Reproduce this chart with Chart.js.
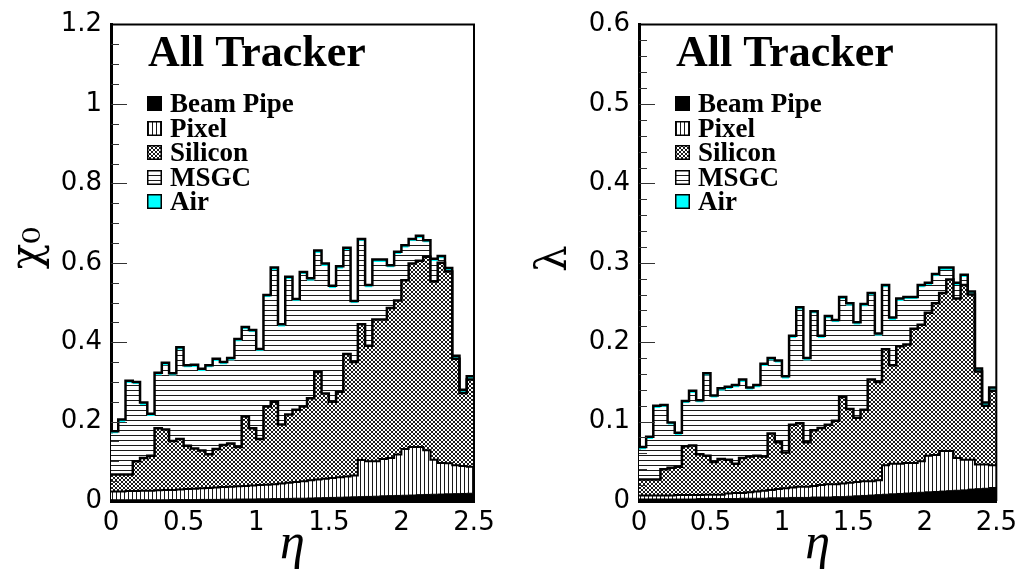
<!DOCTYPE html>
<html>
<head>
<meta charset="utf-8">
<script src="https://cdn.jsdelivr.net/npm/chart.js@4.4.1/dist/chart.umd.min.js"></script>
<style>
  html, body { margin: 0; padding: 0; background: #fff; }
  #wrap { position: relative; width: 1024px; height: 570px; }
  .panel { position: absolute; top: 0; width: 512px; height: 570px; }
</style>
</head>
<body>
<div id="wrap">
  <div class="panel" style="left:0"><canvas id="x0Chart" width="512" height="570"></canvas></div>
  <div class="panel" style="left:512px"><canvas id="lambdaChart" width="512" height="570"></canvas></div>
</div>
<script>
// eta bin edges (50 bins of 0.05)
const etaEdges = [0, 0.05, 0.1, 0.15, 0.2, 0.25, 0.3, 0.35, 0.4, 0.45,
    0.5, 0.55, 0.6, 0.65, 0.7, 0.75, 0.8, 0.85, 0.9, 0.95,
    1.0, 1.05, 1.1, 1.15, 1.2, 1.25, 1.3, 1.35, 1.4, 1.45,
    1.5, 1.55, 1.6, 1.65, 1.7, 1.75, 1.8, 1.85, 1.9, 1.95,
    2.0, 2.05, 2.1, 2.15, 2.2, 2.25, 2.3, 2.35, 2.4, 2.45, 2.5];

const layerNames = ['Beam Pipe', 'Pixel', 'Silicon', 'MSGC', 'Air'];

// cumulative stack tops, radiation lengths (x/X0)
const x0BeamPipe = [0.003, 0.003, 0.003, 0.003, 0.003, 0.003, 0.003, 0.003, 0.0035, 0.0035,
    0.0035, 0.0035, 0.004, 0.004, 0.004, 0.0045, 0.0045, 0.005, 0.005, 0.005,
    0.0055, 0.0055, 0.006, 0.006, 0.0065, 0.007, 0.007, 0.0075, 0.008, 0.0085,
    0.009, 0.0095, 0.010, 0.0105, 0.011, 0.0115, 0.012, 0.013, 0.0135, 0.014,
    0.0145, 0.015, 0.016, 0.0165, 0.017, 0.0175, 0.018, 0.0185, 0.019, 0.0195];
const x0Pixel = [0.024, 0.024, 0.025, 0.025, 0.026, 0.026, 0.027, 0.028, 0.028, 0.029,
    0.030, 0.031, 0.032, 0.033, 0.034, 0.035, 0.036, 0.037, 0.038, 0.039,
    0.040, 0.041, 0.042, 0.044, 0.046, 0.048, 0.050, 0.052, 0.054, 0.056,
    0.058, 0.060, 0.062, 0.064, 0.103, 0.100, 0.100, 0.106, 0.108, 0.117,
    0.131, 0.136, 0.136, 0.128, 0.104, 0.096, 0.095, 0.090, 0.088, 0.086];
const x0Silicon = [0.067, 0.067, 0.067, 0.100, 0.108, 0.114, 0.183, 0.180, 0.151, 0.156,
    0.139, 0.132, 0.127, 0.118, 0.131, 0.141, 0.145, 0.136, 0.213, 0.183,
    0.156, 0.238, 0.250, 0.193, 0.218, 0.230, 0.238, 0.259, 0.325, 0.271,
    0.250, 0.275, 0.370, 0.350, 0.445, 0.391, 0.457, 0.457, 0.486, 0.505,
    0.556, 0.598, 0.605, 0.615, 0.553, 0.600, 0.578, 0.358, 0.272, 0.306];
const x0Msgc = [0.170, 0.199, 0.297, 0.294, 0.242, 0.214, 0.317, 0.342, 0.316, 0.381,
    0.336, 0.337, 0.327, 0.336, 0.352, 0.344, 0.354, 0.402, 0.432, 0.425,
    0.377, 0.513, 0.582, 0.439, 0.559, 0.503, 0.571, 0.555, 0.625, 0.592,
    0.536, 0.585, 0.632, 0.498, 0.654, 0.538, 0.602, 0.602, 0.588, 0.622,
    0.638, 0.654, 0.662, 0.651, 0.604, 0.611, 0.581, 0.360, 0.274, 0.308];
const x0Total = [0.176, 0.205, 0.303, 0.300, 0.248, 0.220, 0.323, 0.348, 0.322, 0.387,
    0.342, 0.343, 0.333, 0.342, 0.358, 0.350, 0.360, 0.408, 0.438, 0.431,
    0.383, 0.519, 0.588, 0.445, 0.565, 0.509, 0.577, 0.561, 0.631, 0.598,
    0.542, 0.591, 0.638, 0.504, 0.660, 0.544, 0.608, 0.608, 0.594, 0.628,
    0.644, 0.660, 0.668, 0.657, 0.610, 0.617, 0.587, 0.366, 0.280, 0.314];

// cumulative stack tops, interaction lengths (x/lambda)
const lamBeamPipe = [0.0025, 0.0025, 0.0025, 0.0025, 0.0025, 0.0025, 0.0025, 0.0025, 0.003, 0.003,
    0.003, 0.003, 0.003, 0.003, 0.0035, 0.0035, 0.0035, 0.0035, 0.004, 0.004,
    0.004, 0.0045, 0.0045, 0.0045, 0.005, 0.005, 0.005, 0.0055, 0.0055, 0.006,
    0.0065, 0.007, 0.0075, 0.008, 0.0085, 0.009, 0.0095, 0.010, 0.0105, 0.011,
    0.0115, 0.012, 0.0125, 0.013, 0.0135, 0.014, 0.015, 0.0155, 0.016, 0.017];
const lamPixel = [0.007, 0.007, 0.007, 0.007, 0.007, 0.0075, 0.0075, 0.0075, 0.0075, 0.008,
    0.008, 0.008, 0.0095, 0.010, 0.010, 0.011, 0.012, 0.013, 0.014, 0.015,
    0.016, 0.017, 0.018, 0.018, 0.019, 0.020, 0.021, 0.021, 0.022, 0.023,
    0.024, 0.025, 0.025, 0.026, 0.045, 0.047, 0.047, 0.048, 0.048, 0.050,
    0.057, 0.058, 0.063, 0.063, 0.054, 0.052, 0.052, 0.046, 0.046, 0.045];
const lamSilicon = [0.027, 0.027, 0.027, 0.040, 0.042, 0.043, 0.069, 0.070, 0.059, 0.057,
    0.049, 0.053, 0.052, 0.047, 0.054, 0.056, 0.057, 0.056, 0.085, 0.074,
    0.061, 0.096, 0.098, 0.074, 0.089, 0.092, 0.096, 0.101, 0.131, 0.116,
    0.105, 0.115, 0.153, 0.150, 0.191, 0.171, 0.195, 0.197, 0.217, 0.222,
    0.237, 0.249, 0.262, 0.279, 0.255, 0.272, 0.260, 0.163, 0.120, 0.139];
const lamMsgc = [0.065, 0.078, 0.117, 0.118, 0.096, 0.083, 0.123, 0.136, 0.124, 0.158,
    0.130, 0.139, 0.141, 0.143, 0.150, 0.140, 0.143, 0.170, 0.177, 0.174,
    0.154, 0.205, 0.241, 0.177, 0.236, 0.205, 0.230, 0.225, 0.254, 0.246,
    0.222, 0.245, 0.259, 0.208, 0.269, 0.228, 0.252, 0.254, 0.254, 0.269,
    0.272, 0.283, 0.291, 0.291, 0.272, 0.282, 0.261, 0.164, 0.121, 0.140];
const lamTotal = [0.068, 0.081, 0.120, 0.121, 0.099, 0.086, 0.126, 0.139, 0.127, 0.161,
    0.133, 0.142, 0.144, 0.146, 0.153, 0.143, 0.146, 0.173, 0.180, 0.177,
    0.157, 0.208, 0.244, 0.180, 0.239, 0.208, 0.233, 0.228, 0.257, 0.249,
    0.225, 0.248, 0.262, 0.211, 0.272, 0.231, 0.255, 0.257, 0.257, 0.272,
    0.275, 0.286, 0.294, 0.294, 0.275, 0.285, 0.264, 0.167, 0.124, 0.143];

// hatch patterns like the ROOT fill styles
const makePattern = (w, h, draw) => {
    const c = document.createElement('canvas');
    c.width = w;
    c.height = h;
    const g = c.getContext('2d');
    g.fillStyle = '#fff';
    g.fillRect(0, 0, w, h);
    g.fillStyle = '#1a1a1a';
    draw(g);
    return g.createPattern(c, 'repeat');
};

const pixelPattern = makePattern(4, 4, g => g.fillRect(0, 0, 1, 4));
const msgcPattern = makePattern(5, 5, g => g.fillRect(0, 0, 5, 1));
const siliconPattern = makePattern(4, 4, g => {
    for (let i = 0; i < 4; i++) {
        g.fillRect(i, i, 1, 1);
        g.fillRect(3 - i, i, 1, 1);
    }
});

const fills = ['#000', pixelPattern, siliconPattern, msgcPattern, '#00ffff'];
const lineColors = ['#000', '#000', '#000', 'rgba(0,0,0,0)', '#000'];
const lineWidths = [1, 2, 2.5, 1, 2.5];

const histPoints = (values) => {
    const pts = values.map((v, i) => ({ x: etaEdges[i], y: v }));
    pts.push({ x: etaEdges[values.length], y: values[values.length - 1] });
    return pts;
};

const buildDatasets = (layers) => layers.map((vals, i) => ({
    label: layerNames[i],
    data: histPoints(vals),
    stepped: 'before',
    borderColor: lineColors[i],
    borderWidth: lineWidths[i],
    backgroundColor: fills[i],
    fill: i === 0 ? 'origin' : '-1',
    pointRadius: 0
}));

// ROOT style labels: 1 and 2, not 1.0 and 2.0
const plainLabel = (v) => String(Number(v.toFixed(2)));

// inner y ticks, frame, title box and legend
const rootFrame = {
    id: 'rootFrame',
    afterDatasetsDraw(chart, args, opts) {
        const { ctx, chartArea: a, scales: { y } } = chart;
        ctx.save();
        ctx.strokeStyle = '#333';
        ctx.lineWidth = 1;
        const n = Math.round(y.max / opts.minorStep);
        for (let k = 1; k < n; k++) {
            const py = Math.round(y.getPixelForValue(k * opts.minorStep)) + 0.5;
            const len = k % opts.minorPerMajor === 0 ? 16 : 8;
            ctx.beginPath();
            ctx.moveTo(a.left, py);
            ctx.lineTo(a.left + len, py);
            ctx.stroke();
        }
        ctx.strokeStyle = '#000';
        ctx.lineWidth = 2;
        ctx.beginPath();
        ctx.moveTo(a.left, a.top);
        ctx.lineTo(a.right, a.top);
        ctx.lineTo(a.right, a.bottom);
        ctx.stroke();
        ctx.restore();
    },
    afterDraw(chart, args, opts) {
        const { ctx, chartArea: a } = chart;
        ctx.save();
        ctx.fillStyle = '#000';
        ctx.textBaseline = 'alphabetic';
        ctx.font = 'bold 44px "Liberation Serif"';
        ctx.fillText(opts.title, a.left + 37, 66);

        ctx.font = 'bold 27px "Liberation Serif"';
        layerNames.forEach((name, i) => {
            const base = 112 + i * 24.5;
            const sx = a.left + 36;
            const sy = Math.round(base - 16);
            ctx.fillStyle = fills[i];
            ctx.fillRect(sx, sy, 15, 15);
            ctx.strokeStyle = '#000';
            ctx.lineWidth = 1.5;
            ctx.strokeRect(sx + 0.75, sy + 0.75, 13.5, 13.5);
            ctx.fillStyle = '#000';
            ctx.fillText(name, a.left + 59, base);
        });
        ctx.restore();
    }
};

const makeChart = (canvasId, layers, cfg) => new Chart(document.getElementById(canvasId), {
    type: 'line',
    data: { datasets: buildDatasets(layers) },
    options: {
        responsive: false,
        animation: false,
        events: [],
        layout: { padding: { top: 17, right: cfg.rightPad, left: 0, bottom: 0 } },
        plugins: {
            legend: { display: false },
            tooltip: { enabled: false },
            filler: { drawTime: 'beforeDatasetsDraw' },
            rootFrame: { title: 'All Tracker', minorStep: cfg.minorStep, minorPerMajor: cfg.minorPerMajor }
        },
        scales: {
            x: {
                type: 'linear',
                min: 0,
                max: 2.5,
                grid: { display: false, drawTicks: false },
                border: { display: true, width: 3, color: '#000' },
                ticks: {
                    stepSize: 0.5,
                    padding: 7,
                    color: '#000',
                    maxRotation: 0,
                    autoSkip: false,
                    font: { family: 'DejaVu Sans', size: 26 },
                    callback: plainLabel
                },
                title: {
                    display: true,
                    text: 'η',
                    color: '#000',
                    font: { family: 'Liberation Serif', style: 'italic', size: 50, lineHeight: 1 },
                    padding: { top: 0, bottom: 0 }
                },
                afterFit: (s) => { s.height = 69; }
            },
            y: {
                min: 0,
                max: cfg.yMax,
                grid: { display: false, drawTicks: false },
                border: { display: true, width: 3, color: '#000' },
                ticks: {
                    stepSize: cfg.yStep,
                    padding: 9,
                    color: '#000',
                    autoSkip: false,
                    font: { family: 'DejaVu Sans', size: 26 },
                    callback: plainLabel
                },
                title: {
                    display: true,
                    text: cfg.yTitle,
                    color: '#000',
                    font: { family: 'DejaVu Serif', size: 42, lineHeight: 1 },
                    padding: { top: cfg.yTitlePad, bottom: 0 }
                },
                afterFit: (s) => { s.width = cfg.yAxisWidth; }
            }
        }
    },
    plugins: [rootFrame]
});

// leading spaces lift the rotated titles a little, as in the ROOT picture
makeChart('x0Chart', [x0BeamPipe, x0Pixel, x0Silicon, x0Msgc, x0Total], {
    yMax: 1.2, yStep: 0.2, minorStep: 0.05, minorPerMajor: 4,
    yTitle: '\u2002\u2009χ₀', yTitlePad: 8, yAxisWidth: 111, rightPad: 38
});

makeChart('lambdaChart', [lamBeamPipe, lamPixel, lamSilicon, lamMsgc, lamTotal], {
    yMax: 0.6, yStep: 0.1, minorStep: 0.02, minorPerMajor: 5,
    yTitle: '\u2009λ', yTitlePad: 22, yAxisWidth: 127, rightPad: 21
});
</script>
</body>
</html>
